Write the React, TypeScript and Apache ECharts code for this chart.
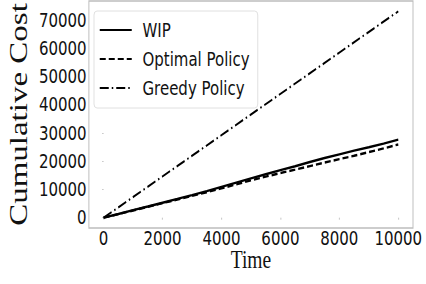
import React, { useEffect, useRef } from "react";
import * as echarts from "echarts";

const times = [0, 500, 1000, 1500, 2000, 2500, 3000, 3500, 4000, 4500, 5000, 5500, 6000, 6500, 7000, 7500, 8000, 8500, 9000, 9500, 10000];
const wip = [0, 1300, 2650, 3950, 5300, 6630, 8000, 9400, 10900, 12400, 13900, 15350, 16800, 18200, 19700, 21100, 22400, 23700, 24900, 26200, 27600];
const optimal = [0, 1250, 2550, 3850, 5150, 6400, 7700, 9000, 10350, 11800, 13200, 14500, 15800, 17000, 18250, 19500, 20700, 21900, 23200, 24500, 25900];
const greedyTimes = [0, 1000, 2000, 3000, 4000, 5000, 6000, 7000, 8000, 9000, 10000];
const greedy = [0, 7300, 14600, 21900, 29200, 36500, 43800, 51100, 58400, 65700, 73000];
const xTicks = [0, 2000, 4000, 6000, 8000, 10000];
const yTicks = [0, 10000, 20000, 30000, 40000, 50000, 60000, 70000];

// The reference is horizontally compressed; draw wider and squeeze with CSS.
const SQUEEZE = 0.75;
const W = 426 / SQUEEZE;
const H = 284;
const sx = (v: number) => v / SQUEEZE;

const SANS = "'DejaVu Sans', sans-serif";
const SERIF = "'Liberation Serif', 'DejaVu Serif', serif";

export default function App() {
  const ref = useRef<HTMLDivElement>(null);
  useEffect(() => {
    if (!ref.current) return;
    const chart = echarts.init(ref.current, null, { renderer: "svg" });
    const pair = (xs: number[], ys: number[]) => xs.map((x, i) => [x, ys[i]]);
    chart.setOption({
      animation: false,
      grid: {
        left: sx(86),
        right: sx(13),
        top: 1,
        bottom: 56,
        show: true,
        borderColor: "#bdbdbd",
        borderWidth: 1.3,
        backgroundColor: "#fff",
      },
      legend: {
        orient: "vertical",
        left: sx(94),
        top: 11,
        itemWidth: sx(32),
        itemHeight: 14,
        itemGap: 9,
        padding: [9, sx(8), 10, sx(5)],
        backgroundColor: "#fff",
        borderColor: "#dcdcdc",
        borderWidth: 1,
        borderRadius: 4,
        itemStyle: { opacity: 0 },
        textStyle: { fontFamily: SANS, fontSize: 20, color: "#111", padding: [0, 0, 0, sx(7)] },
        data: ["WIP", "Optimal Policy", "Greedy Policy"],
      },
      xAxis: {
        type: "value",
        min: -500,
        max: 10500,
        name: "Time",
        nameLocation: "middle",
        nameGap: 19,
        nameMoveOverlap: false,
        nameTextStyle: { fontFamily: SERIF, fontSize: 26, color: "#111" },
        axisLine: { show: false },
        splitLine: { show: false },
        axisTick: { show: true, customValues: xTicks, length: 2, lineStyle: { color: "#bdbdbd" } },
        axisLabel: {
          customValues: xTicks,
          formatter: (v: number) => String(v),
          fontFamily: SANS,
          fontSize: 20,
          color: "#111",
          margin: 0,
        },
      },
      yAxis: {
        type: "value",
        min: -3650,
        max: 76650,
        name: "Cumulative Cost",
        nameLocation: "middle",
        nameRotate: 90,
        nameGap: 67,
        nameTextStyle: { fontFamily: SERIF, fontSize: 33, color: "#111" },
        axisLine: { show: false },
        splitLine: { show: false },
        axisTick: { show: true, customValues: yTicks, length: 2, lineStyle: { color: "#bdbdbd" } },
        axisLabel: {
          customValues: yTicks,
          formatter: (v: number) => String(v),
          fontFamily: SANS,
          fontSize: 20,
          color: "#111",
          margin: 3,
        },
      },
      series: [
        {
          name: "WIP",
          type: "line",
          data: pair(times, wip),
          showSymbol: false,
          symbol: "none",
          lineStyle: { color: "#000", width: 2.4, type: "solid" },
          itemStyle: { color: "#000" },
        },
        {
          name: "Optimal Policy",
          type: "line",
          data: pair(times, optimal),
          showSymbol: false,
          symbol: "none",
          lineStyle: { color: "#000", width: 2.4, type: [8, 4] },
          itemStyle: { color: "#000" },
        },
        {
          name: "Greedy Policy",
          type: "line",
          data: pair(greedyTimes, greedy),
          showSymbol: false,
          symbol: "none",
          lineStyle: { color: "#000", width: 2.1, type: [12, 4, 2, 4] },
          itemStyle: { color: "#000" },
        },
      ],
    });
    return () => chart.dispose();
  }, []);
  return (
    <div
      ref={ref}
      style={{
        width: W,
        height: H,
        position: "absolute",
        left: 0,
        top: 0,
        transform: `scaleX(${SQUEEZE})`,
        transformOrigin: "0 0",
      }}
    />
  );
}
